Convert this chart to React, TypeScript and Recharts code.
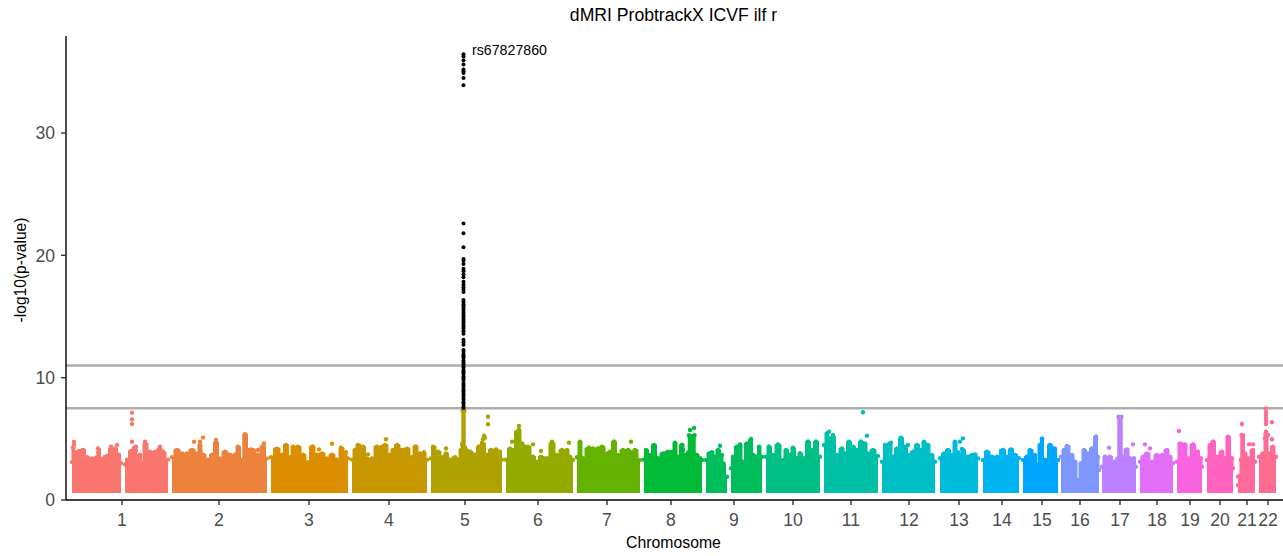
import React from 'react';
import { ComposedChart, Area, Scatter, XAxis, YAxis, ReferenceLine, ReferenceDot } from 'recharts';

// x is the variant rank along the genome (in 10k variants), y is -log10(p)
type Pair = [number, number | null];

const chromLabels = ['1', '2', '3', '4', '5', '6', '7', '8', '9', '10', '11', '12', '13', '14', '15', '16', '17', '18', '19', '20', '21', '22'];
const chromTicks = [56, 153, 243, 323, 399, 472, 541, 605, 668, 727, 785, 843, 893, 936, 976, 1014, 1054, 1091, 1124, 1154, 1181, 1202];
const chromColors = ['#F8766D', '#EC823C', '#DB8E00', '#C79800', '#AFA100', '#93AA00', '#64B200', '#00BA38', '#00BD5C', '#00C085', '#00C1A7', '#00BFC4', '#00BBDA', '#00B4EF', '#00A7FF', '#7F96FF', '#BC81FF', '#E26EF7', '#F863DF', '#FF62BF', '#FF6A9A', '#FF6C91'];
const yTicks = [0, 10, 20, 30];
const thresholds = [7.5, 11];

// upper edge of the solid mass of points, per chromosome
const chr1Tops: Pair[] = [[6, 3.1], [7, 4.3], [9, 3.9], [13, 4.0], [17, 4.1], [21, 3.5], [26, 3.4], [31, 3.5], [33, 4.1], [35, 3.4], [41, 3.6], [45, 4.2], [49, 4.2], [53, 3.7], [55, 3.0], [57, null], [59, 2.9], [61, 3.3], [65, 4.0], [69, 4.3], [71, 3.6], [74, 3.7], [76, 3.0], [79, 4.6], [84, 3.95], [89, 3.95], [94, 4.2], [97, 3.9], [102, 3.3]];
const chr2Tops: Pair[] = [[106, 3.5], [111, 4.1], [116, 3.8], [121, 3.8], [126, 4.1], [131, 3.8], [134, 4.5], [137, 3.7], [142, 3.3], [146, 3.7], [150, 4.7], [154, 3.4], [159, 3.95], [164, 3.7], [169, 3.7], [172, 4.36], [176, 3.3], [178.5, 5.3], [180, 5.3], [182, 4.1], [187, 4.1], [192, 3.7], [197, 4.4], [201, 3.4]];
const chr3Tops: Pair[] = [[205, 3.5], [211, 4.2], [216, 3.7], [220, 4.5], [224, 3.5], [227, 4.36], [232, 4.36], [237, 3.7], [242, 3.1], [246, 4.36], [251, 3.7], [256, 3.8], [261, 3.4], [266, 3.7], [271, 3.3], [276, 4.2], [279, 3.8], [282, 3.4]];
const chr4Tops: Pair[] = [[286, 3.3], [289, 4.1], [292, 4.5], [297, 4.36], [301, 3.4], [306, 3.4], [311, 4.36], [316, 4.36], [319, 4.5], [324, 3.7], [327, 4.1], [331, 4.5], [336, 4.1], [341, 4.2], [346, 3.5], [349, 4.36], [354, 3.8], [358, 3.8], [361, 3.3]];
const chr5Tops: Pair[] = [[365, 3.4], [367, 4.36], [372, 3.95], [377, 3.5], [380, 3.8], [384, 3.3], [389, 3.5], [392, 3.3], [395, 4.1], [396, 4.6], [396.6, 7.3], [398.4, 7.3], [399, 4.3], [400, 4.1], [404, 3.95], [409, 3.7], [413, 4.36], [417, 4.6], [421, 3.7], [425, 4.1], [430, 4.1], [434, 3.95], [436, 3.3]];
const chr6Tops: Pair[] = [[440, 3.3], [444, 4.2], [447, 4.1], [451, 5.59], [453, 5.72], [456, 4.63], [459, 4.36], [462, 4.36], [467, 3.54], [471, 3.13], [475, 3.54], [481, 3.41], [486, 4.63], [491, 3.68], [496, 4.09], [501, 4.09], [504, 3.54], [507, 3.27]];
const chr7Tops: Pair[] = [[511, 3.5], [514, 4.77], [517, 3.41], [522, 4.22], [527, 4.22], [532, 4.22], [536, 4.36], [541, 3.81], [544, 3.95], [548, 4.77], [552, 3.68], [557, 4.09], [562, 4.09], [566, 3.9], [569, 4.09], [574, 3.27]];
const chr8Tops: Pair[] = [[578, 3.3], [580, 4.09], [584, 3.68], [588, 4.5], [592, 3.41], [597, 3.81], [602, 3.95], [606, 3.95], [609, 4.63], [612, 3.54], [616, 4.5], [619, 3.68], [622.5, 3.9], [623, 5.3], [628.5, 5.3], [629, 3.7], [631, 3.68], [634, 3.41], [636, 3.27]];
const chr9Tops: Pair[] = [[640, 3.27], [643, 3.81], [646, 3.9], [649, 3.54], [652, 4.09], [656, 3.68], [657, 3.0], [661, 1.9], [663, null], [665, 2.6], [667, 3.54], [671, 4.36], [674, 4.5], [677, 3.13], [681, 4.63], [685, 4.9], [687, 3.68], [691, 3.54], [693, 4.36], [696, 3.54]];
const chr10Tops: Pair[] = [[700, 3.54], [703, 4.36], [707, 3.68], [712, 4.5], [717, 3.27], [720, 4.09], [724, 3.68], [727, 4.22], [731, 3.41], [734, 3.81], [738, 3.41], [742, 4.77], [746, 4.09], [750, 4.77], [754, 3.54]];
const chr11Tops: Pair[] = [[758, 4.5], [761, 5.45], [764, 5.04], [767, 5.18], [771, 3.68], [776, 4.22], [779, 3.81], [783, 4.77], [787, 4.36], [791, 4.09], [795, 4.77], [799, 4.63], [802, 3.81], [807, 4.09], [812, 3.6]];
const chr12Tops: Pair[] = [[816, 3.13], [820, 4.36], [824, 4.63], [827, 3.54], [831, 4.22], [835, 5.04], [839, 4.36], [843, 3.68], [847, 3.95], [851, 4.5], [855, 4.09], [858, 4.77], [861, 4.5], [866, 3.68], [869, 3.13]];
const chr13Tops: Pair[] = [[874, 3.41], [878, 3.81], [882, 4.09], [886, 3.68], [889, 4.77], [892, 3.9], [894, 3.68], [897, 4.09], [901, 3.54], [906, 3.68], [909, 3.73], [912, 3.4]];
const chr14Tops: Pair[] = [[917, 3.27], [921, 3.95], [926, 3.54], [931, 3.54], [937, 4.09], [941, 3.54], [945, 4.14], [949, 3.68], [953, 3.41]];
const chr15Tops: Pair[] = [[957, 3.27], [961, 3.54], [964, 4.09], [969, 3.68], [971, 2.86], [974, 4.5], [976, 5.04], [978, 3.3], [980, 3.27], [984, 4.5], [988, 4.22], [992, 3.27]];
const chr16Tops: Pair[] = [[995, 3.54], [998, 4.09], [1001, 4.41], [1006, 3.68], [1009, 3.13], [1012, 1.63], [1015, 3.0], [1018, 4.09], [1022, 3.81], [1026, 4.22], [1030, 5.18], [1032, 3.54], [1033, 2.45]];
const chr17Tops: Pair[] = [[1036, 2.72], [1039, 3.54], [1044, 3.54], [1048, 3.13], [1052, 3.41], [1052.5, 6.8], [1055.5, 6.8], [1056, 3.54], [1061, 4.14], [1064, 3.41], [1068, 3.41], [1070, 2.72]];
const chr18Tops: Pair[] = [[1074, 3.13], [1077, 3.54], [1081, 3.81], [1086, 3.13], [1091, 3.68], [1096, 3.68], [1101, 4.09], [1104, 3.54], [1107, 3.0]];
const chr19Tops: Pair[] = [[1111, 3.13], [1114, 4.63], [1119, 4.5], [1122, 3.41], [1127, 4.5], [1131, 3.95], [1135, 3.41], [1136, 2.72]];
const chr20Tops: Pair[] = [[1141, 3.27], [1144, 4.5], [1147, 4.77], [1151, 3.54], [1156, 3.95], [1159, 3.41], [1162, 5.18], [1166, 3.41], [1167, 2.59]];
const chr21Tops: Pair[] = [[1172, 1.2], [1174, 2], [1175, 3.3], [1175.5, 5.3], [1177, 5.3], [1179, 3.81], [1182, 3.41], [1187, 4.09], [1189, 3.13]];
const chr22Tops: Pair[] = [[1193, 3.54], [1197, 3.81], [1200, 5.45], [1203, 3.81], [1207, 4.36], [1210, 3.54]];

const allTops = [chr1Tops, chr2Tops, chr3Tops, chr4Tops, chr5Tops, chr6Tops, chr7Tops, chr8Tops, chr9Tops, chr10Tops, chr11Tops, chr12Tops, chr13Tops, chr14Tops, chr15Tops, chr16Tops, chr17Tops, chr18Tops, chr19Tops, chr20Tops, chr21Tops, chr22Tops];

// individual points standing clear of the mass
const chr1Dots: Pair[] = [[66, 7.14], [66, 6.59], [66, 6.21], [8, 4.77], [8, 4.5], [32, 4.22], [32, 3.87], [45, 4.36], [51, 4.5], [66, 4.77], [70, 4.36], [70, 4.03], [79, 4.77], [79, 4.5], [94, 4.36], [97, 3.95], [68, 4.22]];
const chr2Dots: Pair[] = [[128, 4.77], [134, 4.77], [137, 5.1], [150, 4.9], [179, 5.37], [179, 5.04], [185, 4.14], [192, 4.09], [198, 4.63]];
const chr3Dots: Pair[] = [[220, 4.44], [247, 4.36], [253, 4.14], [266, 4.6], [275, 4.28], [280, 3.9]];
const chr4Dots: Pair[] = [[320, 4.96], [302, 3.73], [350, 4.36], [358, 3.9]];
const chr5Dots: Pair[] = [[422, 6.81], [422, 6.19], [413, 4.36], [418, 5.26], [417, 4.96], [416, 4.69], [404, 3.81], [380, 4.22], [430, 4.14], [419, 5.1]];
const chr6Dots: Pair[] = [[446, 4.77], [453, 6.05], [467, 4.55], [475, 4.01], [486, 4.77], [486, 4.44], [503, 4.69]];
const chr7Dots: Pair[] = [[514, 4.69], [548, 4.77], [565, 4.77], [523, 4.28], [536, 4.3], [548, 4.5]];
const chr8Dots: Pair[] = [[624, 5.72], [628, 5.89], [616, 4.5], [617, 4.09], [609, 4.69]];
const chr9Dots: Pair[] = [[654, 4.44], [674, 4.55], [685, 5.0], [693, 4.28], [670, 4.28]];
const chr10Dots: Pair[] = [[703, 4.36], [712, 4.55], [727, 4.28], [742, 4.77], [750, 4.77], [734, 3.81]];
const chr11Dots: Pair[] = [[763, 5.59], [767, 5.31], [801, 5.26], [797, 7.17], [795, 4.77]];
const chr12Dots: Pair[] = [[819, 4.5], [825, 4.69], [835, 5.1], [842, 4.5], [858, 4.69], [862, 4.5]];
const chr13Dots: Pair[] = [[897, 5.04], [894, 4.77], [896, 4.17], [897, 3.95]];
const chr14Dots: Pair[] = [[921, 3.9], [937, 4.09], [945, 4.09], [950, 3.62]];
const chr15Dots: Pair[] = [[976, 4.96], [976, 4.69], [984, 4.44], [964, 4.01], [989, 4.17]];
const chr16Dots: Pair[] = [[1001, 4.36], [1030, 5.18], [1030, 4.96]];
const chr17Dots: Pair[] = [[1043, 4.28], [1067, 4.55], [1061, 4.09]];
const chr18Dots: Pair[] = [[1079, 4.55], [1084, 4.22]];
const chr19Dots: Pair[] = [[1113, 5.64], [1116, 4.55], [1119, 4.55], [1127, 4.55], [1132, 3.95]];
const chr20Dots: Pair[] = [[1147, 4.77], [1162, 5.04], [1162, 4.77]];
const chr21Dots: Pair[] = [[1176, 6.21], [1183, 4.55], [1187, 4.55], [1172, 1.91]];
const chr22Dots: Pair[] = [[1200, 7.49], [1200, 7.2], [1200, 6.95], [1200, 6.7], [1200, 6.45], [1200, 6.21], [1206, 6.35], [1200, 5.59], [1199, 5.04], [1206, 4.96], [1202, 5.31]];

const allDots = [chr1Dots, chr2Dots, chr3Dots, chr4Dots, chr5Dots, chr6Dots, chr7Dots, chr8Dots, chr9Dots, chr10Dots, chr11Dots, chr12Dots, chr13Dots, chr14Dots, chr15Dots, chr16Dots, chr17Dots, chr18Dots, chr19Dots, chr20Dots, chr21Dots, chr22Dots];

// the genome-wide significant hit on chromosome 5, drawn black
const leadRank = 397.5;
const leadValues = [36.44, 36.25, 35.95, 35.6, 35.2, 35.05, 34.9, 34.5, 33.9, 22.6, 21.8, 20.66, 19.7, 19.55, 19.3, 18.9, 18.7, 18.45, 18.2, 17.85, 17.6, 17.4, 17.2, 17.0, 16.35, 16.2, 16.0, 15.85, 15.7, 15.5, 15.3, 15.15, 15.0, 14.8, 14.65, 14.5, 14.3, 14.15, 14.0, 13.8, 13.6, 13.1, 12.9, 12.7, 12.26, 12.1, 11.9, 11.75, 11.6, 11.4, 11.25, 11.1, 10.9, 10.8, 10.6, 10.45, 10.3, 10.1, 9.95, 9.8, 9.57, 9.4, 9.25, 9.05, 8.9, 8.7, 8.55, 8.35, 8.2, 8.0, 7.85, 7.65, 7.52];
const leadName = 'rs67827860';

const tableRows = allTops.flatMap((tops, i) =>
  tops.map(([x, v]) => ({ x, [`chr${i + 1}`]: v })),
);

const toPoints = (pairs: Pair[]) => pairs.filter(p => p[1] !== null).map(([x, y]) => ({ x, y }));
const leadPoints = leadValues.map(y => ({ x: leadRank, y }));

const Dot = (r: number) => (props: any) => <circle cx={props.cx} cy={props.cy} r={r} fill={props.fill} />;

const FONT = '"Liberation Sans", Arial, sans-serif';

const App: React.FC = () => (
  <div style={{ position: 'absolute', left: 0, top: 0, width: 1283, height: 556, fontFamily: FONT, overflow: 'hidden' }}>
    <ComposedChart width={1283} height={556} data={tableRows} margin={{ top: 36, right: 0, bottom: 0, left: 0 }}>
      <XAxis
        dataKey="x"
        type="number"
        domain={[0, 1217]}
        ticks={chromTicks}
        interval={0}
        tickFormatter={(_v: number, i: number) => chromLabels[i]}
        height={56}
        tickSize={5}
        tickMargin={9}
        stroke="#000"
        strokeWidth={1.4}
        tick={{ fill: '#4D4D4D', fontSize: 17.6, fontFamily: FONT }}
        tickLine={{ stroke: '#333333', strokeWidth: 1.4 }}
      />
      <YAxis
        type="number"
        domain={[0, 37.93]}
        ticks={yTicks}
        width={66}
        tickSize={5}
        tickMargin={6}
        stroke="#000"
        strokeWidth={1.4}
        tick={{ fill: '#4D4D4D', fontSize: 17.6, fontFamily: FONT }}
        tickLine={{ stroke: '#333333', strokeWidth: 1.4 }}
      />
      {chromLabels.map((c, i) => (
        <Area
          key={`area${c}`}
          dataKey={`chr${c}`}
          type="step"
          baseValue={0.58}
          fill={chromColors[i]}
          fillOpacity={1}
          stroke={chromColors[i]}
          strokeWidth={2}
          strokeLinejoin="round"
          dot={false}
          activeDot={false}
          isAnimationActive={false}
        />
      ))}
      {chromLabels.map((c, i) => (
        <Scatter
          key={`dots${c}`}
          data={toPoints([...allDots[i], ...allTops[i]])}
          dataKey="y"
          fill={chromColors[i]}
          shape={Dot(2.2)}
          isAnimationActive={false}
        />
      ))}
      <Scatter data={leadPoints} dataKey="y" fill="#000" shape={Dot(2)} isAnimationActive={false} />
      {thresholds.map(t => (
        <ReferenceLine key={t} y={t} stroke="#ADADAD" strokeWidth={2.4} />
      ))}
      <ReferenceDot
        x={leadRank}
        y={36.8}
        r={0}
        stroke="none"
        fill="none"
        label={{ value: leadName, position: 'right', offset: 8.5, fontSize: 14.2, fill: '#000', fontFamily: FONT }}
      />
    </ComposedChart>
    <div style={{ position: 'absolute', top: 5, left: 0, width: 1347, textAlign: 'center', fontSize: 17.6, lineHeight: '20px', color: '#000' }}>
      dMRI ProbtrackX ICVF ilf r
    </div>
    <div style={{ position: 'absolute', top: 534, left: 0, width: 1347, textAlign: 'center', fontSize: 15.8, lineHeight: '18px', color: '#000' }}>
      Chromosome
    </div>
    <div style={{ position: 'absolute', left: 20.5, top: 269.5, width: 0, height: 0 }}>
      <div style={{ position: 'absolute', left: -80, top: -9, width: 160, textAlign: 'center', fontSize: 15.6, lineHeight: '18px', color: '#000', transform: 'rotate(-90deg)' }}>
        -log10(p-value)
      </div>
    </div>
  </div>
);

export default App;
